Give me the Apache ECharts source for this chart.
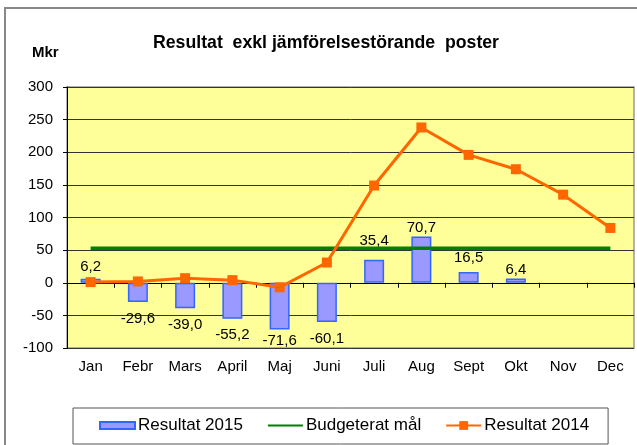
<!DOCTYPE html>
<html><head><meta charset="utf-8">
<script src="https://cdn.jsdelivr.net/npm/echarts@6/dist/echarts.min.js"></script>
<style>html,body{margin:0;padding:0;background:#fff}#c{width:637px;height:445px}</style>
</head><body><div id="c"></div>
<script>
const categories = ['Jan','Febr','Mars','April','Maj','Juni','Juli','Aug','Sept','Okt','Nov','Dec'];
const resultat2015 = [6.2,-29.6,-39.0,-55.2,-71.6,-60.1,35.4,70.7,16.5,6.4,null,null];
const budget = [53,53,53,53,53,53,53,53,53,53,53,53];
const resultat2014 = [1,2,7,4,-7,31,149,238,196,174,135,84];
const yTicks = {min:-100,max:300,interval:50};
// label gap (px) between bar end and its value label, styling only
const labelGap = [4,9,9,9,4,9,11,1,7,1,0,0];

const font = 'Liberation Sans, Arial, sans-serif';
const chart = echarts.init(document.getElementById('c'), null, {renderer:'canvas'});
chart.setOption({
  animation:false,
  backgroundColor:'#fff',
  textStyle:{fontFamily:font,color:'#000'},
  graphic:[{type:'rect',shape:{x:5,y:8,width:700,height:600},style:{fill:'none',stroke:'#888',lineWidth:2},silent:true,z:-1}],
  title:[
    {text:'Resultat  exkl jämförelsestörande  poster',left:321,textAlign:'center',top:29,textStyle:{fontFamily:font,fontSize:17.7,fontWeight:'bold',color:'#000'}},
    {text:'Mkr',left:27,top:40,textStyle:{fontFamily:font,fontSize:15,fontWeight:'bold',color:'#000'}}
  ],
  grid:{left:67,right:3,top:87,bottom:97,show:true,backgroundColor:'#FFFF99',borderColor:'#999',borderWidth:1.5},
  legend:{
    left:73,top:408,
    padding:[9,19,10,26],
    borderColor:'#555',borderWidth:1,
    itemWidth:35,itemHeight:11,itemGap:24,
    textStyle:{fontFamily:font,fontSize:17,color:'#000',padding:[0,0,0,-2]},
    data:[
      {name:'Resultat 2015',icon:'path://M0,0 L35,0 L35,7 L0,7 Z'},
      {name:'Budgeterat mål',itemStyle:{color:'rgba(0,0,0,0)',borderWidth:0}},
      {name:'Resultat 2014'}
    ]
  },
  xAxis:[
    {type:'category',data:categories,position:'bottom',
      axisLine:{show:false,onZero:false},axisTick:{show:false},
      axisLabel:{fontFamily:font,fontSize:15,color:'#000',margin:11}},
    {type:'category',data:categories,position:'bottom',
      axisLine:{show:true,onZero:true,lineStyle:{color:'#000',width:1}},
      axisTick:{show:true,length:5,lineStyle:{color:'#000'}},
      axisLabel:{show:false}}
  ],
  yAxis:{type:'value',min:yTicks.min,max:yTicks.max,interval:yTicks.interval,
    axisLine:{show:true,lineStyle:{color:'#000',width:1}},
    axisTick:{show:true,length:4,lineStyle:{color:'#000'}},
    axisLabel:{fontFamily:font,fontSize:15,color:'#000',margin:14},
    splitLine:{show:true,lineStyle:{color:'#333',width:1}}},
  series:[
    {name:'Resultat 2015',type:'bar',barWidth:20,
      data: resultat2015.map((v,i) => v==null?null:({value:v,label:{position: v<0?'bottom':'top',distance:labelGap[i]}})),
      itemStyle:{color:'#9999FF',borderColor:'#3366FF',borderWidth:1.5},
      label:{show:true,fontFamily:font,fontSize:15,color:'#000',
        formatter:p=>p.value==null?'':p.value.toFixed(1).replace('.',',')}},
    {name:'Budgeterat mål',type:'line',data:budget,symbol:'none',
      lineStyle:{color:'#008000',width:3.5},itemStyle:{color:'#008000'},z:3},
    {name:'Resultat 2014',type:'line',data:resultat2014,symbol:'rect',symbolSize:10,
      lineStyle:{color:'#FF6600',width:3},itemStyle:{color:'#FF6600'},z:4}
  ]
});
</script></body></html>
